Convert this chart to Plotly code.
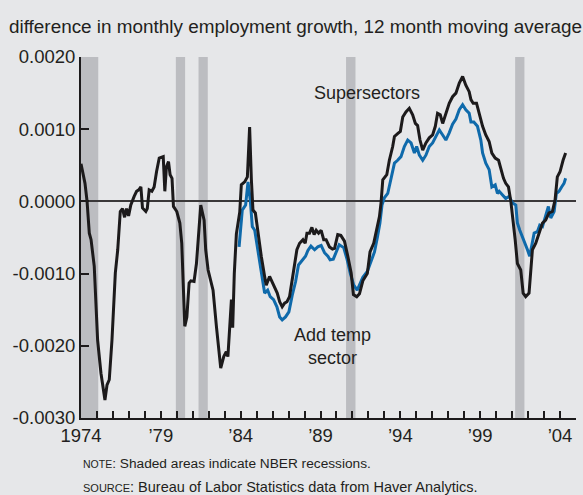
import plotly.graph_objects as go

# Supersectors (black), decimal years
super_year = [
    1974.00, 1974.25, 1974.38, 1974.52, 1974.63, 1974.83, 1975.04, 1975.25, 1975.50, 1975.63,
    1975.77, 1975.94, 1976.15, 1976.30, 1976.46, 1976.60, 1976.73, 1976.85, 1976.98, 1977.12,
    1977.33, 1977.48, 1977.62, 1977.75, 1977.85, 1978.06, 1978.15, 1978.27, 1978.44, 1978.58,
    1978.73, 1978.90, 1979.15, 1979.25, 1979.35, 1979.48, 1979.58, 1979.70, 1979.79, 1980.00,
    1980.19, 1980.31, 1980.40, 1980.50, 1980.63, 1980.77, 1980.88, 1981.08, 1981.23, 1981.35,
    1981.50, 1981.71, 1981.81, 1981.96, 1982.27, 1982.48, 1982.75, 1982.94, 1983.10, 1983.20,
    1983.31, 1983.42, 1983.50, 1983.60, 1983.73, 1983.94, 1984.04, 1984.25, 1984.42, 1984.56,
    1984.67, 1984.77, 1984.92, 1985.08, 1985.29, 1985.50, 1985.60, 1985.81, 1986.00, 1986.13,
    1986.29, 1986.44, 1986.60, 1986.75, 1986.90, 1987.06, 1987.23, 1987.38, 1987.52, 1987.69,
    1987.90, 1988.04, 1988.15, 1988.31, 1988.46, 1988.60, 1988.73, 1988.88, 1989.04, 1989.20,
    1989.35, 1989.56, 1989.75, 1989.88, 1990.08, 1990.27, 1990.50, 1990.71, 1990.92, 1991.06,
    1991.27, 1991.44, 1991.65, 1991.93, 1992.10, 1992.33, 1992.48, 1992.69, 1992.79, 1992.90,
    1993.15, 1993.31, 1993.52, 1993.63, 1993.83, 1994.00, 1994.15, 1994.35, 1994.56, 1994.77,
    1994.94, 1995.08, 1995.23, 1995.40, 1995.60, 1995.81, 1996.02, 1996.19, 1996.33, 1996.50,
    1996.65, 1996.85, 1997.06, 1997.27, 1997.48, 1997.69, 1997.90, 1998.10, 1998.31, 1998.42,
    1998.56, 1998.77, 1998.94, 1999.15, 1999.35, 1999.56, 1999.73, 1999.94, 2000.15, 2000.29,
    2000.46, 2000.60, 2000.77, 2000.92, 2001.06, 2001.19, 2001.33, 2001.54, 2001.69, 2001.85,
    2002.06, 2002.17, 2002.27, 2002.48, 2002.69, 2002.90, 2003.10, 2003.31, 2003.52, 2003.69,
    2003.83, 2004.00, 2004.19, 2004.35,
]
super_val = [
    0.00052, 0.00025, 0.00000, -0.00044, -0.00053, -0.00090, -0.00192, -0.00238, -0.00275, -0.00254,
    -0.00247, -0.00192, -0.00099, -0.00067, -0.00014, -0.00010, -0.00022, -0.00010, -0.00020, -0.00005,
    0.00007, 0.00014, 0.00016, 0.00020, -0.00009, -0.00014, -0.00010, 0.00016, 0.00014, 0.00020,
    0.00041, 0.00060, 0.00062, 0.00014, 0.00048, 0.00055, 0.00037, 0.00032, -0.00007, -0.00014,
    -0.00030, -0.00058, -0.00113, -0.00173, -0.00160, -0.00113, -0.00110, -0.00111, -0.00086, -0.00053,
    -0.00005, -0.00026, -0.00067, -0.00095, -0.00123, -0.00173, -0.00231, -0.00215, -0.00208, -0.00215,
    -0.00178, -0.00136, -0.00175, -0.00100, -0.00045, -0.00015, 0.00023, 0.00027, 0.00034, 0.00103,
    0.00030, -0.00012, -0.00016, -0.00044, -0.00076, -0.00104, -0.00116, -0.00104, -0.00113, -0.00118,
    -0.00127, -0.00139, -0.00146, -0.00141, -0.00139, -0.00132, -0.00109, -0.00086, -0.00067, -0.00058,
    -0.00053, -0.00058, -0.00044, -0.00044, -0.00036, -0.00046, -0.00040, -0.00044, -0.00040, -0.00053,
    -0.00053, -0.00063, -0.00066, -0.00065, -0.00046, -0.00047, -0.00055, -0.00076, -0.00099, -0.00129,
    -0.00132, -0.00128, -0.00110, -0.00100, -0.00070, -0.00058, -0.00044, -0.00021, -0.00002, 0.00030,
    0.00037, 0.00057, 0.00076, 0.00090, 0.00094, 0.00097, 0.00117, 0.00124, 0.00129, 0.00120,
    0.00108, 0.00105, 0.00085, 0.00071, 0.00081, 0.00088, 0.00092, 0.00104, 0.00122, 0.00120,
    0.00108, 0.00122, 0.00136, 0.00145, 0.00150, 0.00164, 0.00173, 0.00161, 0.00152, 0.00141,
    0.00136, 0.00136, 0.00122, 0.00104, 0.00092, 0.00083, 0.00067, 0.00060, 0.00057, 0.00046,
    0.00032, 0.00025, 0.00020, 0.00000, -0.00026, -0.00053, -0.00086, -0.00095, -0.00127, -0.00132,
    -0.00127, -0.00095, -0.00067, -0.00058, -0.00044, -0.00030, -0.00026, -0.00016, -0.00014, 0.00002,
    0.00034, 0.00041, 0.00057, 0.00067,
]

# Add temp sector (blue)
temp_year = [
    1983.90, 1984.10, 1984.31, 1984.46, 1984.60, 1984.73, 1984.88, 1985.08, 1985.29, 1985.50,
    1985.69, 1985.85, 1986.06, 1986.27, 1986.44, 1986.60, 1986.81, 1987.02, 1987.23, 1987.44,
    1987.62, 1987.88, 1988.06, 1988.21, 1988.40, 1988.63, 1988.83, 1989.04, 1989.25, 1989.46,
    1989.60, 1989.80, 1990.17, 1990.45, 1990.66, 1990.87, 1991.08, 1991.30, 1991.44, 1991.65,
    1991.93, 1992.17, 1992.38, 1992.56, 1992.72, 1992.85, 1993.00, 1993.21, 1993.42, 1993.63,
    1993.83, 1994.04, 1994.25, 1994.46, 1994.67, 1994.88, 1995.02, 1995.19, 1995.40, 1995.60,
    1995.81, 1996.02, 1996.23, 1996.44, 1996.65, 1996.85, 1997.06, 1997.27, 1997.48, 1997.69,
    1997.90, 1998.10, 1998.31, 1998.42, 1998.60, 1998.83, 1999.04, 1999.15, 1999.35, 1999.56,
    1999.73, 1999.94, 2000.08, 2000.19, 2000.40, 2000.60, 2000.81, 2001.02, 2001.23, 2001.33,
    2001.48, 2001.65, 2001.81, 2001.96, 2002.10, 2002.23, 2002.38, 2002.58, 2002.73, 2002.90,
    2003.10, 2003.27, 2003.42, 2003.63, 2003.77, 2003.94, 2004.10, 2004.25, 2004.35,
]
temp_val = [
    -0.00063, -0.00012, -0.00005, 0.00027, 0.00002, -0.00035, -0.00040, -0.00067, -0.00095, -0.00127,
    -0.00123, -0.00132, -0.00136, -0.00146, -0.00160, -0.00164, -0.00160, -0.00153, -0.00130, -0.00111,
    -0.00088, -0.00080, -0.00076, -0.00068, -0.00062, -0.00067, -0.00063, -0.00061, -0.00071, -0.00076,
    -0.00081, -0.00080, -0.00060, -0.00064, -0.00080, -0.00100, -0.00116, -0.00123, -0.00116, -0.00105,
    -0.00097, -0.00081, -0.00070, -0.00050, -0.00030, -0.00005, 0.00005, 0.00011, 0.00034, 0.00053,
    0.00057, 0.00062, 0.00076, 0.00085, 0.00081, 0.00067, 0.00076, 0.00064, 0.00057, 0.00064,
    0.00076, 0.00081, 0.00090, 0.00099, 0.00092, 0.00085, 0.00095, 0.00107, 0.00114, 0.00127,
    0.00134, 0.00127, 0.00122, 0.00110, 0.00110, 0.00104, 0.00085, 0.00067, 0.00053, 0.00044,
    0.00020, 0.00023, 0.00011, 0.00014, 0.00009, 0.00004, 0.00007, -0.00002, -0.00005, -0.00030,
    -0.00040, -0.00049, -0.00058, -0.00067, -0.00076, -0.00063, -0.00044, -0.00042, -0.00033, -0.00035,
    -0.00019, -0.00007, -0.00023, -0.00014, 0.00011, 0.00014, 0.00020, 0.00025, 0.00032,
]

# NBER recessions as drawn
recession_start = [1973.90, 1979.94, 1981.36, 1990.60, 2001.19]
recession_end = [1975.08, 1980.52, 1981.94, 1991.19, 2001.77]

x_tickvals = [1974, 1979, 1984, 1989, 1994, 1999, 2004]
x_ticktext = ["1974", "\u201979", "\u201984", "\u201989", "\u201994", "\u201999", "\u201904"]
y_tickvals = [0.002, 0.001, 0.0, -0.001, -0.002, -0.003]
y_ticktext = ["0.0020", "0.0010", "0.0000", "-0.0010", "-0.0020", "-0.0030"]

FONT = "Liberation Sans, Arial, sans-serif"
TXT = "#231f20"
BLUE = "#0f6aab"
BG = "#e6e7e9"

fig = go.Figure()
fig.add_trace(go.Scatter(x=temp_year, y=temp_val, mode="lines", name="Add temp sector",
                         line=dict(color=BLUE, width=3)))
fig.add_trace(go.Scatter(x=super_year, y=super_val, mode="lines", name="Supersectors",
                         line=dict(color="#1c1a1b", width=3)))

for s, e in zip(recession_start, recession_end):
    fig.add_shape(type="rect", xref="x", yref="paper", x0=s, x1=e, y0=0, y1=1,
                  fillcolor="#bcbdc1", line_width=0, layer="below")

fig.add_annotation(x=1991.9, y=0.0015, text="Supersectors", showarrow=False,
                   font=dict(family=FONT, size=18, color=TXT))
fig.add_annotation(x=1989.75, y=-0.00201, text="Add temp<br>sector", showarrow=False,
                   font=dict(family=FONT, size=18, color=TXT))

fig.add_annotation(xref="paper", yref="paper", x=0, y=-0.127, xanchor="left", yanchor="middle",
                   text="<span style='font-size:10.5px'>NOTE</span>: Shaded areas indicate NBER recessions.",
                   showarrow=False, font=dict(family=FONT, size=13.7, color=TXT))
fig.add_annotation(xref="paper", yref="paper", x=0, y=-0.191, xanchor="left", yanchor="middle",
                   text="<span style='font-size:11px'>SOURCE</span>: Bureau of Labor Statistics data from Haver Analytics.",
                   showarrow=False, font=dict(family=FONT, size=14.5, color=TXT))

fig.update_layout(
    width=583, height=495,
    margin=dict(l=81, r=7, t=57, b=77),
    paper_bgcolor=BG, plot_bgcolor=BG,
    showlegend=False,
    title=dict(text="difference in monthly employment growth, 12 month moving average",
               xref="container", yref="container", x=9 / 583, xanchor="left",
               y=1 - 26 / 495, yanchor="middle",
               font=dict(family=FONT, size=18.9, color=TXT)),
    xaxis=dict(range=[1974, 2005], tickvals=x_tickvals, ticktext=x_ticktext,
               ticks="inside", ticklen=7, tickwidth=1.5, tickcolor="#1c1a1b",
               minor=dict(dtick=1, tick0=1974, ticks="inside", ticklen=7, tickwidth=1.5,
                          tickcolor="#1c1a1b", showgrid=False),
               showgrid=False, zeroline=False, showline=True, linecolor="#1c1a1b", linewidth=2,
               tickfont=dict(family=FONT, size=18.5, color=TXT)),
    yaxis=dict(range=[-0.003, 0.002], tickvals=y_tickvals, ticktext=y_ticktext,
               ticks="inside", ticklen=8, tickwidth=1.5, tickcolor="#1c1a1b",
               showgrid=False, zeroline=True, zerolinecolor="#3a3839", zerolinewidth=1.5,
               showline=True, linecolor="#1c1a1b", linewidth=2,
               tickfont=dict(family=FONT, size=18.5, color=TXT)),
)

# drop the browser's default body margin so the figure sits at the page corner
fig.write_html("out.html", config={"displayModeBar": False},
               post_script="document.body.style.margin='0';document.body.style.background='%s';" % BG)
